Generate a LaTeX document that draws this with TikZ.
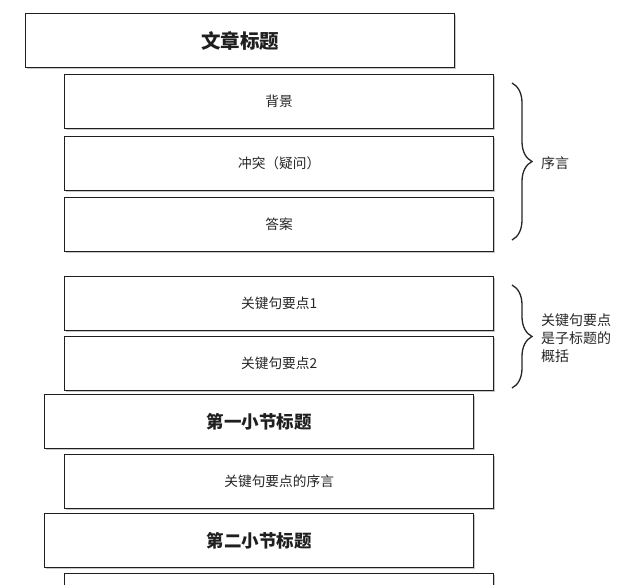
\documentclass[tikz,border=0pt]{standalone}
\usepackage{fontspec}
\newfontfamily\cjk{Noto Sans CJK SC}
\usetikzlibrary{decorations.pathreplacing,shadows}
\begin{document}
\begin{tikzpicture}[x=1pt,y=-1pt,
  box/.style={draw=black!88,line width=1.3pt,fill=white,minimum width=429pt,minimum height=54pt,
    inner sep=0pt,anchor=north west,font=\cjk\fontsize{13.7}{13.7}\selectfont,text=black!85,
    drop shadow={shadow xshift=1pt,shadow yshift=-1.8pt,fill=black,opacity=0.22}},
  titlebox/.style={box,font=\cjk\bfseries\fontsize{19.5}{19.5}\selectfont,text=black!88},
  secbox/.style={box,font=\cjk\bfseries\fontsize{17.5}{17.5}\selectfont,text=black!88},
  brc/.style={decorate,decoration={brace,amplitude=20pt,aspect=0.5},line width=1.3pt,draw=black!85},
  lbl/.style={font=\cjk\fontsize{14}{18}\selectfont,anchor=west,align=left,inner sep=0pt,text=black!85}]
\useasboundingbox (0,0) rectangle (640,584);
\clip (0,0) rectangle (640,584);
\fill[white] (0,0) rectangle (640,584);
\node[titlebox] (title) at (25,13) {文章标题};
\node[box] (bg) at (64,74) {背景};
\node[box] (ct) at (64,136) {冲突（疑问）};
\node[box] (ans) at (64,197) {答案};
\node[box] (k1) at (64,276) {关键句要点1};
\node[box] (k2) at (64,336) {关键句要点2};
\node[secbox] (s1) at (44,394) {第一小节标题};
\node[box] (p1) at (64,454) {关键句要点的序言};
\node[secbox] (s2) at (44,513) {第二小节标题};
\node[box] (last) at (64,573) {};
\coordinate (b1a) at (512,83);
\coordinate (b1b) at (512,240);
\coordinate (b2a) at (512,285);
\coordinate (b2b) at (512,388);
\draw[brc] (b1a) -- (b1b);
\draw[brc] (b2a) -- (b2b);
\node[lbl] (pre) at (541,163) {序言};
\node[lbl] (sum) at (541,338) {关键句要点\\是子标题的\\概括};
\end{tikzpicture}
\end{document}
